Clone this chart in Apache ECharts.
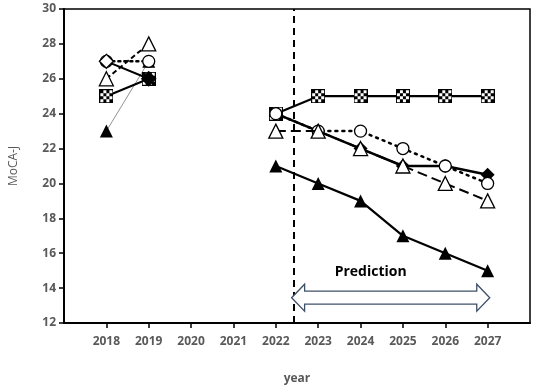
<!DOCTYPE html>
<html><head><meta charset="utf-8">
<script src="https://cdn.jsdelivr.net/npm/echarts@6/dist/echarts.min.js"></script>
<style>html,body{margin:0;padding:0;background:#fff}#c{width:536px;height:390px}</style>
</head><body><div id="c"></div>
<script>
const earlyYears = [2018, 2019];
const lateYears = [2022, 2023, 2024, 2025, 2026, 2027];
const xTicks = [2018, 2019, 2020, 2021, 2022, 2023, 2024, 2025, 2026, 2027];
const squareEarly = [25, 26];
const squareLate = [24, 25, 25, 25, 25, 25];
const diamondEarly = [27, 26];
const diamondLate = [24, 23, 22, 21, 21, 20.5];
const circleEarly = [27, 27];
const circleLate = [24, 23, 23, 22, 21, 20];
const openTriEarly = [26, 28];
const openTriLate = [23, 23, 22, 21, 20, 19];
const blackTriEarly = [23, 27];
const blackTriLate = [21, 20, 19, 17, 16, 15];
const predictionStart = 2022.42;
const predictionEnd = 2027.05;

function pairs(xs, ys) { return xs.map((x, i) => [x, ys[i]]); }

// checkered square symbol
const cv = document.createElement('canvas');
cv.width = 14; cv.height = 14;
const g = cv.getContext('2d');
g.fillStyle = '#fff'; g.fillRect(0, 0, 14, 14);
g.fillStyle = '#000';
g.fillRect(0, 0, 14, 1); g.fillRect(0, 13, 14, 1); g.fillRect(0, 0, 1, 14); g.fillRect(13, 0, 1, 14);
for (let i = 0; i < 4; i++) for (let j = 0; j < 4; j++) {
  if ((i + j) % 2 === 0) g.fillRect(1 + i * 3, 1 + j * 3, 3, 3);
}
const checker = 'image://' + cv.toDataURL();

const chart = echarts.init(document.getElementById('c'));
const font = '"Open Sans", sans-serif';
const openMarker = { color: '#fff', borderColor: '#000', borderWidth: 1.3 };

function mk(name, data, symbol, size, itemStyle, lineStyle, z) {
  return { name, type: 'line', data, symbol, symbolSize: size, showSymbol: true,
    itemStyle, lineStyle, z, animation: false, emphasis: { disabled: true } };
}

const series = [
  mk('btE', pairs(earlyYears, blackTriEarly), 'triangle', 13, { color: '#000' }, { color: '#777', width: 0.8 }, 2),
  mk('btL', pairs(lateYears, blackTriLate), 'triangle', 13, { color: '#000' }, { color: '#000', width: 2.2 }, 2),
  mk('sqE', pairs(earlyYears, squareEarly), checker, 14, { color: '#000' }, { color: '#000', width: 2 }, 3),
  mk('sqL', pairs(lateYears, squareLate), checker, 14, { color: '#000' }, { color: '#000', width: 2.2 }, 3),
  mk('ciE', pairs(earlyYears, circleEarly), 'circle', 12, openMarker, { color: '#000', width: 2.5, type: [2, 4], cap: 'round' }, 5),
  { ...mk('diE', pairs(earlyYears, diamondEarly), 'diamond', 14, { color: '#000', borderColor: '#000', borderWidth: 1.3 }, { color: '#000', width: 2 }, 6),
    data: [{ value: [earlyYears[0], diamondEarly[0]], itemStyle: { color: '#fff' } }, [earlyYears[1], diamondEarly[1]]] },
  mk('diL', pairs(lateYears, diamondLate), 'diamond', 14, { color: '#000' }, { color: '#000', width: 2.5 }, 4),
  mk('ciL', pairs(lateYears, circleLate), 'circle', 12, openMarker, { color: '#000', width: 2.5, type: [2, 5], cap: 'round' }, 5),
  mk('otE', pairs(earlyYears, openTriEarly), 'triangle', 14, openMarker, { color: '#000', width: 2, type: [5, 3] }, 6),
  mk('otL', pairs(lateYears, openTriLate), 'triangle', 14, openMarker, { color: '#000', width: 2, type: [10, 5] }, 6),
  { type: 'line', data: [], z: 1, silent: true,
    markLine: { symbol: 'none', silent: true, animation: false, label: { show: false },
      lineStyle: { color: '#000', width: 2, type: [7, 5] },
      data: [{ xAxis: predictionStart }] } }
];

chart.setOption({
  animation: false,
  grid: { left: 62, right: 6, top: 9, bottom: 67, show: true, borderColor: '#000', borderWidth: 1.5 },
  xAxis: {
    type: 'value', min: 2017, max: 2028, interval: 1,
    name: 'year', nameLocation: 'middle', nameGap: 50,
    nameTextStyle: { color: '#595959', fontFamily: font, fontSize: 12, fontWeight: 'bold' },
    splitLine: { show: false },
    axisLine: { lineStyle: { color: '#000', width: 2 } },
    axisTick: { customValues: xTicks, length: 5, lineStyle: { color: '#000', width: 1.5 } },
    axisLabel: { customValues: xTicks, formatter: v => String(v), margin: 13, color: '#595959', fontFamily: font, fontSize: 12, fontWeight: 'bold' }
  },
  yAxis: {
    type: 'value', min: 12, max: 30, interval: 2,
    name: 'MoCA-J', nameLocation: 'middle', nameGap: 44,
    nameTextStyle: { color: '#595959', fontFamily: font, fontSize: 12 },
    splitLine: { show: false },
    axisLine: { show: true, lineStyle: { color: '#000', width: 2 } },
    axisTick: { show: true, length: 5, lineStyle: { color: '#000', width: 1.5 } },
    axisLabel: { margin: 8, color: '#595959', fontFamily: font, fontSize: 12, fontWeight: 'bold' }
  },
  series
});

// Prediction arrow, positioned through the axes
const p1 = chart.convertToPixel({ gridIndex: 0 }, [predictionStart, 13.45]);
const p2 = chart.convertToPixel({ gridIndex: 0 }, [predictionEnd, 13.45]);
const x1 = p1[0] - 2, x2 = p2[0], cy = p1[1];
const hl = 13, hh = 13.5, sh = 6.5;
chart.setOption({
  graphic: [
    { type: 'polygon', z: 100, shape: { points: [
      [x1, cy], [x1 + hl, cy - hh], [x1 + hl, cy - sh], [x2 - hl, cy - sh], [x2 - hl, cy - hh],
      [x2, cy], [x2 - hl, cy + hh], [x2 - hl, cy + sh], [x1 + hl, cy + sh], [x1 + hl, cy + hh]
    ] }, style: { fill: '#fff', stroke: '#3e5068', lineWidth: 1.3 } },
    { type: 'text', z: 100, x: (x1 + x2) / 2 - 20, y: cy - 26,
      style: { text: 'Prediction', fill: '#000', font: 'bold 14px "Open Sans", sans-serif', textAlign: 'center', textVerticalAlign: 'middle' } }
  ]
});
</script></body></html>
